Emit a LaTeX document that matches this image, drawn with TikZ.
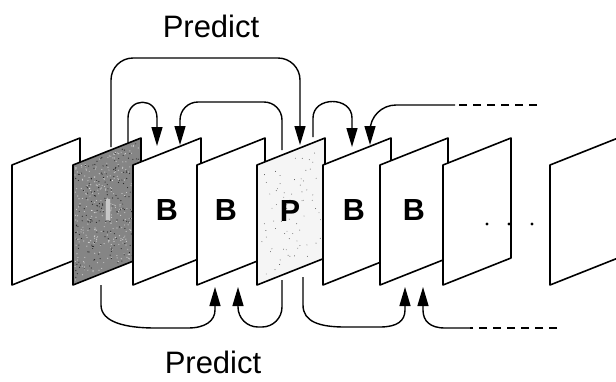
\documentclass[tikz,border=0pt]{standalone}
\usepackage{fontspec}
\setmainfont{Liberation Sans}
\usetikzlibrary{arrows.meta,calc}
\begin{document}
\begin{tikzpicture}[x=1pt,y=-1pt,
  frm/.style={line width=1.6pt,line join=round,draw=black},
  conn/.style={line width=1.4pt,line cap=butt},
  tip/.style={-{Triangle[length=19pt,width=11pt]}},
  dsh/.style={line width=1.4pt,dash pattern=on 8pt off 6pt},
  lbl/.style={font=\fontsize{30.5}{30.5}\selectfont\bfseries,anchor=base,inner sep=0pt},
  pred/.style={font=\fontsize{31}{31}\selectfont,anchor=base,inner sep=0pt}]
\useasboundingbox (0,0) rectangle (616,381);
\begin{scope}
\clip (0,0) rectangle (616,381);
% frames
\foreach \x/\c in {12/white,73/black!48,133/white,197/white,257/black!4,323/white,380/white,443/white,550/white}{
  \filldraw[frm,fill=\c] (\x,165) -- ({\x+68},138) -- ({\x+68},258) -- (\x,285) -- cycle;
  \ifnum\x=73
    \pgfmathsetseed{11}
    \foreach \i in {1,...,300}{
      \pgfmathsetmacro\u{0.03+0.94*rnd}\pgfmathsetmacro\v{0.03+0.94*rnd}
      \fill[white,opacity=0.6] ({73+68*\u},{165-27*\u+120*\v}) circle (0.6pt);
    }
    \foreach \i in {1,...,200}{
      \pgfmathsetmacro\u{0.03+0.94*rnd}\pgfmathsetmacro\v{0.03+0.94*rnd}
      \fill[black!85] ({73+68*\u},{165-27*\u+120*\v}) circle (0.6pt);
    }
  \fi
  \ifnum\x=257
    \pgfmathsetseed{5}
    \foreach \i in {1,...,70}{
      \pgfmathsetmacro\u{0.06+0.88*rnd}\pgfmathsetmacro\v{0.06+0.88*rnd}
      \fill[black!70] ({257+68*\u},{165-27*\u+120*\v}) circle (0.45pt);
    }
  \fi
}
\end{scope}
% frame labels
\node[lbl,text=black!22] (lI) at (108,220) {I};
\node[lbl] (lB1) at (167,220) {B};
\node[lbl] (lB2) at (226,220) {B};
\node[lbl] (lP) at (290,221) {P};
\node[lbl] (lB3) at (354,220) {B};
\node[lbl] (lB4) at (414,220) {B};
% ellipsis dots
\foreach \x [count=\k] in {487,509,532}{\fill (\x,224) coordinate (dot\k) circle (1.6pt);}
% captions
\node[pred] (ptop) at (211,37) {Predict};
\node[pred] (pbot) at (213,373) {Predict};
% connector end points
\coordinate (topY) at (0,58);
\coordinate (iT1) at (111,147);
\coordinate (pT1) at (300,145);
\coordinate (iT2) at (128,143);
\coordinate (bT1) at (157,146);
\coordinate (pT2) at (282,150);
\coordinate (bT2) at (180,145);
\coordinate (pT3) at (313,137);
\coordinate (cT1) at (352,147);
\coordinate (inT) at (537,105);
\coordinate (inTs) at (455,105);
\coordinate (cT2) at (370,145);
\coordinate (iB) at (101,285);
\coordinate (dB1) at (215,287);
\coordinate (pB1) at (282,280);
\coordinate (dB2) at (238,287);
\coordinate (pB2) at (303,277);
\coordinate (eB1) at (405,287);
\coordinate (inB) at (557,328);
\coordinate (inBs) at (470,328);
\coordinate (eB2) at (423,287);
% top connectors
\draw[conn,tip,rounded corners=22pt] (iT1) -- (iT1 |- topY) -- (pT1 |- topY) -- (pT1);
\draw[conn,tip] (iT2) -- (128,118) .. controls (128,97) and (157,97) .. (157,118) -- (bT1);
\draw[conn,tip,rounded corners=18pt] (pT2) -- (282,102) -- (180,102) -- (bT2);
\draw[conn,tip] (pT3) -- (313,118) .. controls (313,96) and (352,96) .. (352,118) -- (cT1);
\draw[dsh] (inT) -- (inTs);
\draw[conn,tip,rounded corners=26pt] (inTs) -- (370,105) -- (cT2);
% bottom connectors
\draw[conn,tip] (iB) -- (101,305) .. controls (101,322) and (125,328) .. (155,328) -- (188,328) .. controls (205,328) and (215,321) .. (215,310) -- (dB1);
\draw[conn,tip,rounded corners=20pt] (pB1) -- (282,327) -- (238,327) -- (dB2);
\draw[conn,tip] (pB2) -- (303,305) .. controls (303,322) and (320,327) .. (345,327) -- (380,327) .. controls (397,327) and (405,321) .. (405,310) -- (eB1);
\draw[dsh] (inB) -- (inBs);
\draw[conn,tip] (inBs) -- (445,328) .. controls (430,328) and (423,321) .. (423,310) -- (eB2);
\end{tikzpicture}
\end{document}
